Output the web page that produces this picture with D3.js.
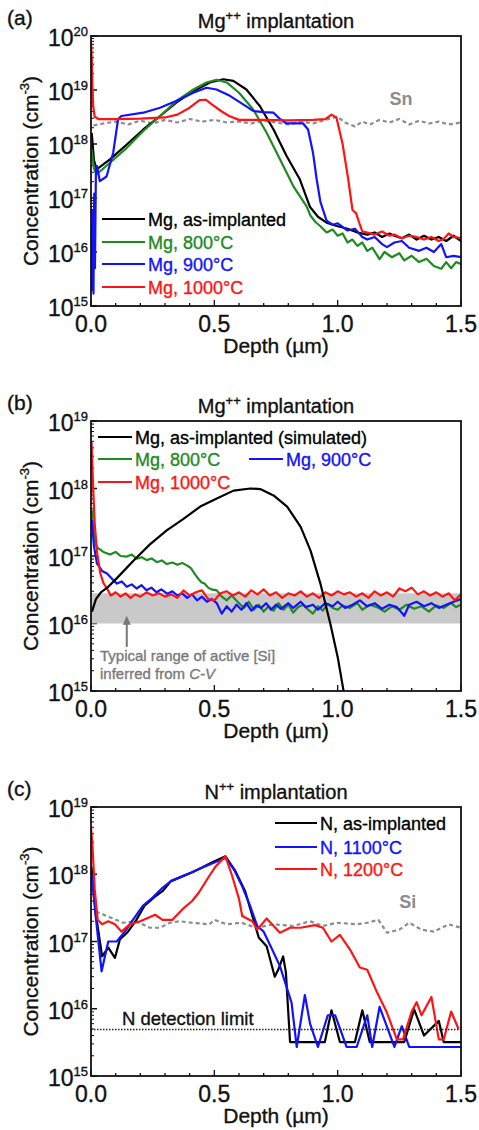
<!DOCTYPE html>
<html>
<head>
<meta charset="utf-8">
<script src="https://cdn.jsdelivr.net/npm/d3@7"></script>
<style>
  body { margin: 0; background: #fff; }
  text { font-family: "Liberation Sans", Arial, sans-serif; paint-order: stroke; stroke-width: 0.35px; }
</style>
</head>
<body>
<div class="chart"></div>
<script>
// ---- panel (a): Mg++ implantation, SIMS ----
var aBlack = [[0.003,1.6e18],[0.012,5e17],[0.023,3.4e17],[0.077,5.2e17],[0.145,9.8e17],[0.212,1.86e18],[0.28,3.3e18],[0.347,5.9e18],[0.415,9.5e18],[0.482,1.38e19],[0.536,1.58e19],[0.577,1.48e19],[0.63,1.02e19],[0.685,5e18],[0.74,1.86e18],[0.793,6e17],[0.847,2.2e17],[0.888,6.8e16],[0.92,4.5e16],[0.955,3.5e16],[0.98,3.2e16],[1.0,3.0e16],[1.04,2.7e16],[1.08,2.3e16],[1.12,2.1e16],[1.15,2.3e16],[1.18,1.9e16],[1.21,2.2e16],[1.23,2.0e16],[1.26,1.8e16],[1.29,2.1e16],[1.32,1.7e16],[1.35,2.0e16],[1.38,1.7e16],[1.41,1.9e16],[1.44,1.6e16],[1.47,2.0e16],[1.5,1.6e16]];
var aGreen = [[0.002,8e17],[0.012,3.5e17],[0.023,2.75e17],[0.077,4.5e17],[0.145,8.5e17],[0.212,1.74e18],[0.28,3.3e18],[0.347,6.3e18],[0.415,1.02e19],[0.468,1.38e19],[0.509,1.55e19],[0.55,1.38e19],[0.6,8.9e18],[0.657,4.4e18],[0.712,1.62e18],[0.766,5.2e17],[0.82,1.66e17],[0.874,7e16],[0.89,4.7e16],[0.91,3.6e16],[0.93,3.0e16],[0.955,2.3e16],[0.98,2.6e16],[1.0,2.0e16],[1.02,2.2e16],[1.04,1.5e16],[1.06,1.7e16],[1.08,1.3e16],[1.1,1.5e16],[1.12,1.05e16],[1.14,1.2e16],[1.17,7.4e15],[1.19,1.0e16],[1.22,8.0e15],[1.25,9.5e15],[1.27,7.0e15],[1.3,8.5e15],[1.33,6.5e15],[1.36,7.5e15],[1.39,5.5e15],[1.42,4.9e15],[1.44,6.5e15],[1.46,5.0e15],[1.48,6.5e15],[1.5,6.0e15]];
var aBlue = [[0.001,3e16],[0.004,2e15],[0.007,6e16],[0.01,1.7e15],[0.013,1.2e17],[0.016,5e15],[0.02,3.5e17],[0.024,3.9e17],[0.036,2.05e17],[0.063,2.5e17],[0.09,6.9e17],[0.11,2.9e18],[0.123,3.3e18],[0.212,3.8e18],[0.28,4.7e18],[0.347,6.3e18],[0.415,8.9e18],[0.468,1.1e19],[0.509,1.02e19],[0.563,7.8e18],[0.617,5.4e18],[0.657,4.1e18],[0.698,3.9e18],[0.74,3.8e18],[0.766,2.9e18],[0.793,2.4e18],[0.86,2.4e18],[0.88,1.86e18],[0.9,6.9e17],[0.915,2.2e17],[0.93,8.5e16],[0.955,3.8e16],[0.98,3.2e16],[1.0,3.4e16],[1.04,2.5e16],[1.07,2.7e16],[1.1,1.9e16],[1.12,1.7e16],[1.15,1.9e16],[1.18,1.4e16],[1.2,1.23e16],[1.23,1.5e16],[1.26,1.6e16],[1.29,1.2e16],[1.33,1.05e16],[1.36,1.2e16],[1.39,1.0e16],[1.42,1.4e16],[1.44,8e15],[1.47,8.5e15],[1.5,8e15]];
var aRed = [[0.0,8e19],[0.003,4e19],[0.006,1e19],[0.009,5e18],[0.015,3.2e18],[0.03,2.9e18],[0.1,2.9e18],[0.2,2.95e18],[0.3,3.1e18],[0.35,3.5e18],[0.4,4.7e18],[0.44,6.5e18],[0.465,6.6e18],[0.49,5.4e18],[0.53,4.0e18],[0.56,3.3e18],[0.6,2.8e18],[0.7,2.8e18],[0.8,2.75e18],[0.9,2.8e18],[0.95,2.9e18],[0.975,3.5e18],[0.995,3.1e18],[1.02,1.0e18],[1.043,2.2e17],[1.06,6e16],[1.075,5.2e16],[1.09,3.2e16],[1.1,2.4e16],[1.12,2.3e16],[1.15,2.1e16],[1.18,2.4e16],[1.21,2.0e16],[1.23,2.1e16],[1.26,1.8e16],[1.29,2.0e16],[1.32,1.9e16],[1.35,1.7e16],[1.38,1.9e16],[1.41,1.6e16],[1.43,1.75e16],[1.45,2.2e16],[1.47,1.9e16],[1.5,1.8e16]];
var aSn = [[0.01,2.2e18],[0.05,2.4e18],[0.1,2.6e18],[0.15,2.3e18],[0.2,2.7e18],[0.25,2.4e18],[0.3,2.8e18],[0.35,2.5e18],[0.4,2.9e18],[0.45,2.6e18],[0.5,2.8e18],[0.55,2.5e18],[0.6,2.6e18],[0.65,2.4e18],[0.7,2.7e18],[0.75,2.5e18],[0.8,2.3e18],[0.85,2.6e18],[0.9,2.4e18],[0.95,2.8e18],[1.0,3.2e18],[1.03,2.5e18],[1.07,2.1e18],[1.1,2.6e18],[1.13,2.3e18],[1.17,2.8e18],[1.21,2.5e18],[1.25,2.9e18],[1.29,2.3e18],[1.33,2.7e18],[1.37,2.4e18],[1.41,2.6e18],[1.45,2.3e18],[1.5,2.5e18]];

// ---- panel (b): Mg++ implantation, simulated + annealed ----
var bBlack = [[0.004,1.5e16],[0.02,2.3e16],[0.04,2.9e16],[0.07,3.5e16],[0.105,4.7e16],[0.172,8.5e16],[0.24,1.5e17],[0.307,2.4e17],[0.375,3.55e17],[0.443,5.4e17],[0.51,7.1e17],[0.578,9.3e17],[0.646,1.0e18],[0.686,9.8e17],[0.74,7.9e17],[0.795,5.4e17],[0.85,2.7e17],[0.89,1.2e17],[0.93,3.9e16],[0.97,1.0e16],[1.0,3.2e15],[1.024,1.0e15]];
var bGreen = [[0.003,4.8e17],[0.012,2e17],[0.023,1.35e17],[0.05,1.15e17],[0.077,1.05e17],[0.1,1.15e17],[0.12,1.0e17],[0.145,9.8e16],[0.165,1.05e17],[0.186,9.1e16],[0.206,9.6e16],[0.226,8.7e16],[0.246,9.2e16],[0.267,8.1e16],[0.287,8.6e16],[0.307,7.6e16],[0.33,8.0e16],[0.35,7.4e16],[0.37,7.9e16],[0.39,7.2e16],[0.405,6.6e16],[0.42,5.5e16],[0.435,4.6e16],[0.447,4.1e16],[0.46,3.9e16],[0.475,3.4e16],[0.488,3.2e16],[0.51,3.1e16],[0.53,2.5e16],[0.55,2.2e16],[0.57,2.6e16],[0.6,2.0e16],[0.62,1.7e16],[0.64,2.1e16],[0.66,1.6e16],[0.68,1.9e16],[0.7,1.5e16],[0.72,1.8e16],[0.74,1.55e16],[0.76,2.0e16],[0.78,1.6e16],[0.8,1.9e16],[0.82,1.45e16],[0.84,1.75e16],[0.86,1.9e16],[0.88,1.6e16],[0.9,1.4e16],[0.92,1.8e16],[0.94,1.55e16],[0.96,1.95e16],[0.98,1.7e16],[1.0,1.6e16],[1.02,1.85e16],[1.05,1.7e16],[1.08,2.0e16],[1.1,1.6e16],[1.13,1.9e16],[1.16,1.75e16],[1.19,1.5e16],[1.22,1.8e16],[1.25,1.6e16],[1.28,1.9e16],[1.31,1.65e16],[1.34,1.8e16],[1.37,1.5e16],[1.4,1.85e16],[1.43,1.7e16],[1.46,2.0e16],[1.48,1.75e16],[1.5,1.9e16]];
var bBlue = [[0.003,3.4e17],[0.012,1.4e17],[0.024,7.8e16],[0.045,6.0e16],[0.065,5.5e16],[0.085,4.6e16],[0.105,3.9e16],[0.125,4.2e16],[0.145,3.5e16],[0.165,3.8e16],[0.185,3.3e16],[0.205,3.7e16],[0.225,3.1e16],[0.245,3.4e16],[0.265,2.9e16],[0.285,3.2e16],[0.31,2.75e16],[0.33,3.0e16],[0.35,2.6e16],[0.37,2.8e16],[0.39,2.4e16],[0.41,2.7e16],[0.43,2.2e16],[0.45,2.5e16],[0.47,2.1e16],[0.49,2.3e16],[0.51,2.0e16],[0.53,1.4e16],[0.55,1.8e16],[0.57,1.5e16],[0.59,1.9e16],[0.61,1.6e16],[0.63,2.0e16],[0.65,1.55e16],[0.67,1.85e16],[0.69,1.7e16],[0.71,2.0e16],[0.73,1.6e16],[0.75,1.9e16],[0.77,1.65e16],[0.8,2.0e16],[0.82,1.7e16],[0.85,2.1e16],[0.87,1.75e16],[0.9,1.9e16],[0.92,1.6e16],[0.95,2.0e16],[0.98,1.8e16],[1.0,2.1e16],[1.03,1.7e16],[1.06,1.9e16],[1.09,2.2e16],[1.12,1.8e16],[1.15,2.0e16],[1.18,1.65e16],[1.21,1.9e16],[1.24,1.75e16],[1.27,1.3e16],[1.29,1.9e16],[1.32,2.1e16],[1.35,1.8e16],[1.38,2.0e16],[1.41,1.7e16],[1.44,1.9e16],[1.47,2.1e16],[1.5,2.3e16]];
var bRed = [[0.002,5e18],[0.008,1.2e18],[0.015,3e17],[0.025,1.1e17],[0.038,5.5e16],[0.05,4.0e16],[0.065,3.3e16],[0.08,2.6e16],[0.1,2.9e16],[0.12,2.5e16],[0.14,2.8e16],[0.16,2.4e16],[0.18,2.7e16],[0.2,2.5e16],[0.225,2.9e16],[0.25,2.6e16],[0.275,2.8e16],[0.3,2.5e16],[0.325,2.7e16],[0.35,2.4e16],[0.375,3.1e16],[0.4,2.6e16],[0.425,2.9e16],[0.45,3.1e16],[0.475,2.3e16],[0.5,2.2e16],[0.525,2.8e16],[0.55,3.0e16],[0.575,2.6e16],[0.6,2.9e16],[0.625,2.5e16],[0.65,3.1e16],[0.675,2.7e16],[0.7,3.2e16],[0.725,2.6e16],[0.75,2.9e16],[0.775,2.4e16],[0.8,2.8e16],[0.825,2.6e16],[0.85,3.0e16],[0.875,2.5e16],[0.9,2.8e16],[0.925,2.4e16],[0.95,2.9e16],[0.975,2.6e16],[1.0,3.0e16],[1.025,2.7e16],[1.05,2.9e16],[1.075,2.5e16],[1.1,2.8e16],[1.125,2.4e16],[1.15,3.0e16],[1.175,2.6e16],[1.2,2.9e16],[1.225,2.5e16],[1.25,3.3e16],[1.275,3.0e16],[1.3,3.4e16],[1.325,2.7e16],[1.35,3.0e16],[1.375,2.6e16],[1.4,2.9e16],[1.425,2.5e16],[1.45,2.8e16],[1.475,2.2e16],[1.5,2.7e16]];
var bBand = [1e16, 2.8e16];

// ---- panel (c): N++ implantation ----
var cBlack = [[0.002,1.3e18],[0.02,2.5e17],[0.045,6.0e16],[0.07,8.1e16],[0.097,5.7e16],[0.117,1.07e17],[0.15,1.4e17],[0.184,2.1e17],[0.217,3.4e17],[0.258,4.6e17],[0.29,5.6e17],[0.324,7.9e17],[0.37,9.3e17],[0.41,1.07e18],[0.45,1.26e18],[0.49,1.5e18],[0.545,1.85e18],[0.585,1.12e18],[0.625,5.6e17],[0.65,2.7e17],[0.68,1.15e17],[0.712,8.5e16],[0.745,3.0e16],[0.759,3.8e16],[0.779,6.0e16],[0.79,3.5e16],[0.807,3.2e15],[0.948,3.2e15],[0.975,9.5e15],[1.009,3.2e15],[1.07,3.2e15],[1.1,9.5e15],[1.13,3.2e15],[1.27,3.2e15],[1.31,9.8e15],[1.35,4.0e15],[1.41,6.6e15],[1.43,3.2e15],[1.5,3.2e15]];
var cBlue = [[0.002,1.0e18],[0.02,2.2e17],[0.043,3.6e16],[0.07,1.0e17],[0.104,1.0e17],[0.137,1.4e17],[0.17,2.1e17],[0.21,3.4e17],[0.25,4.5e17],[0.29,6.3e17],[0.324,7.9e17],[0.37,9.3e17],[0.41,1.07e18],[0.45,1.25e18],[0.5,1.5e18],[0.545,1.75e18],[0.58,1.17e18],[0.613,6.6e17],[0.645,3.4e17],[0.674,1.7e17],[0.7,1.4e17],[0.725,9e16],[0.766,4.3e16],[0.793,2.1e16],[0.813,1.23e16],[0.834,2.7e15],[0.867,1.6e16],[0.888,6e15],[0.92,2.7e15],[0.96,8e15],[0.99,8e15],[1.036,2.7e15],[1.077,2.7e15],[1.12,8e15],[1.14,2.7e15],[1.17,1.07e16],[1.23,2.7e15],[1.26,5.5e15],[1.29,2.7e15],[1.5,2.7e15]];
var cRed = [[0.0,5.0e18],[0.005,3e18],[0.015,6e17],[0.027,2.1e17],[0.045,1.8e17],[0.07,2.0e17],[0.097,1.8e17],[0.124,1.4e17],[0.157,1.8e17],[0.2,2.0e17],[0.26,2.5e17],[0.29,2.1e17],[0.33,2.1e17],[0.37,3.0e17],[0.41,4.0e17],[0.438,5.4e17],[0.48,9.5e17],[0.505,1.3e18],[0.545,1.85e18],[0.572,9.5e17],[0.6,4.3e17],[0.613,2.4e17],[0.654,2.0e17],[0.674,1.5e17],[0.712,2.2e17],[0.766,1.35e17],[0.807,1.6e17],[0.85,1.6e17],[0.908,1.75e17],[0.94,1.6e17],[0.975,1.0e17],[1.009,1.25e17],[1.05,7.6e16],[1.09,4.1e16],[1.12,3.8e16],[1.16,1.74e16],[1.2,8.7e15],[1.24,3.5e15],[1.265,3.5e15],[1.3,9.1e15],[1.32,1.25e16],[1.34,8e15],[1.38,1.5e16],[1.41,3.5e15],[1.43,3.5e15],[1.46,9.1e15],[1.49,5.0e15]];
var cSi = [[0.02,2.8e17],[0.076,2.3e17],[0.13,1.9e17],[0.184,2.0e17],[0.238,1.6e17],[0.28,1.6e17],[0.32,1.9e17],[0.36,2.0e17],[0.41,1.9e17],[0.48,1.8e17],[0.5,2.1e17],[0.55,1.8e17],[0.61,1.9e17],[0.67,1.6e17],[0.74,1.8e17],[0.82,1.7e17],[0.888,2.0e17],[0.94,1.7e17],[0.997,1.9e17],[1.04,1.85e17],[1.077,1.8e17],[1.12,1.9e17],[1.165,2.1e17],[1.2,1.35e17],[1.25,1.5e17],[1.29,1.9e17],[1.34,1.5e17],[1.39,1.4e17],[1.45,1.8e17],[1.5,1.6e17]];
var cLimit = 4.9e15;

var xTicks = [0, 0.5, 1.0, 1.5];
var colors = { black: "#000", green: "#1f8a1f", blue: "#1212ff", red: "#ff1414", gray: "#8c8c8c" };

var W = 479, H = 1130, left = 91, right = 461;

var svg = d3.select(".chart").append("svg")
  .attr("width", W).attr("height", H)
  .style("display", "block");

// one panel: box, log y axis, depth x axis, titles
function panel(id, top, bottom, ymin, ymax, tag, ion) {
  var g = svg.append("g").attr("fill", "#111").attr("stroke", "#111");
  var x = d3.scaleLinear().domain([0, 1.5]).range([left, right]);
  var y = d3.scaleLog().domain([ymin, ymax]).range([bottom, top]);

  g.append("clipPath").attr("id", "clip" + id)
    .append("rect").attr("x", left).attr("y", top).attr("width", right - left).attr("height", bottom - top);

  //left axis: decades + minor ticks, all pointing inwards
  var decades = d3.range(Math.log10(ymin), Math.log10(ymax) + 1);
  decades.forEach(function (e) {
    var v = Math.pow(10, e);
    g.append("line").attr("x1", left).attr("x2", left + 6).attr("y1", y(v)).attr("y2", y(v))
      .attr("stroke-width", 1.5);
    var t = g.append("text").attr("x", left - 3).attr("y", y(v) + 10)
      .attr("text-anchor", "end").attr("font-size", 23).text("10");
    t.append("tspan").attr("font-size", 13).attr("dy", -10).text(e);
    if (e < Math.log10(ymax)) {
      for (var k = 2; k < 10; k++) {
        g.append("line").attr("x1", left).attr("x2", left + 3).attr("y1", y(k * v)).attr("y2", y(k * v))
          .attr("stroke-width", 1);
      }
    }
  });

  //bottom axis ticks every 0.1
  d3.range(0, 16).forEach(function (i) {
    var len = (i % 5 === 0) ? 6 : 3;
    g.append("line").attr("x1", x(i / 10)).attr("x2", x(i / 10)).attr("y1", bottom).attr("y2", bottom - len)
      .attr("stroke-width", 1.3);
  });
  xTicks.forEach(function (v) {
    g.append("text").attr("x", x(v)).attr("y", bottom + 26).attr("text-anchor", "middle")
      .attr("font-size", 23).text(v.toFixed(1));
  });
  g.append("text").attr("x", (left + right) / 2).attr("y", bottom + 47).attr("text-anchor", "middle")
    .attr("font-size", 21).text("Depth (\u00b5m)");

  var yl = g.append("text")
    .attr("transform", "translate(38," + ((top + bottom) / 2) + ") rotate(-90)")
    .attr("text-anchor", "middle").attr("font-size", 21).text("Concentration (cm");
  yl.append("tspan").attr("font-size", 13).attr("dy", -9).text("-3");
  yl.append("tspan").attr("dy", 9).text(")");

  var tt = g.append("text").attr("x", 276).attr("y", top - 8).attr("text-anchor", "middle")
    .attr("font-size", 20).text(ion);
  tt.append("tspan").attr("font-size", 13).attr("dy", -8).text("++");
  tt.append("tspan").attr("dy", 8).text(" implantation");

  g.append("text").attr("x", 7).attr("y", top - 11).attr("font-size", 21).text(tag);

  var plot = g.append("g").attr("clip-path", "url(#clip" + id + ")");
  var line = d3.line().x(function (d) { return x(d[0]); }).y(function (d) { return y(d[1]); });

  return { g: g, plot: plot, x: x, y: y, line: line, top: top, bottom: bottom };
}

function series(p, data, color, dash) {
  p.plot.append("path").datum(data).attr("d", p.line)
    .attr("fill", "none").attr("stroke", color).attr("stroke-width", 2.2)
    .attr("stroke-linejoin", "round")
    .attr("stroke-dasharray", dash || null);
}

function frame(p) {
  p.g.append("rect").attr("x", left).attr("y", p.top).attr("width", right - left).attr("height", p.bottom - p.top)
    .attr("fill", "none").attr("stroke-width", 1.8);
}

function legendRow(p, x0, x1, yy, color, label) {
  p.g.append("line").attr("x1", x0).attr("x2", x1).attr("y1", yy).attr("y2", yy)
    .attr("stroke", color).attr("stroke-width", 2.2);
  p.g.append("text").attr("x", x1 + 3).attr("y", yy + 7).attr("font-size", 18)
    .attr("fill", color).attr("stroke", color).text(label);
}

// (a)
var pa = panel("a", 36, 306, 1e15, 1e20, "(a)", "Mg");
series(pa, aSn, colors.gray, "4,3");
series(pa, aBlack, colors.black);
series(pa, aGreen, colors.green);
series(pa, aBlue, colors.blue);
series(pa, aRed, colors.red);
frame(pa);
pa.g.append("text").attr("x", pa.x(1.21)).attr("y", pa.y(5.2e18)).attr("font-size", 18)
  .attr("font-weight", "bold").attr("fill", colors.gray).attr("stroke", "none").text("Sn");
legendRow(pa, 102, 145, 219, colors.black, "Mg, as-implanted");
legendRow(pa, 102, 145, 242, colors.green, "Mg, 800\u00b0C");
legendRow(pa, 102, 145, 264, colors.blue, "Mg, 900\u00b0C");
legendRow(pa, 102, 145, 287, colors.red, "Mg, 1000\u00b0C");

// (b)
var pb = panel("b", 421, 691, 1e15, 1e19, "(b)", "Mg");
pb.plot.append("rect").attr("x", left).attr("width", right - left)
  .attr("y", pb.y(bBand[1])).attr("height", pb.y(bBand[0]) - pb.y(bBand[1]))
  .attr("fill", "#c9c9c9").attr("stroke", "none");
series(pb, bGreen, colors.green);
series(pb, bBlue, colors.blue);
series(pb, bRed, colors.red);
series(pb, bBlack, colors.black);
frame(pb);
legendRow(pb, 98, 132, 437, colors.black, "Mg, as-implanted (simulated)");
legendRow(pb, 98, 132, 459, colors.green, "Mg, 800\u00b0C");
legendRow(pb, 249, 283, 459, colors.blue, "Mg, 900\u00b0C");
legendRow(pb, 98, 132, 482, colors.red, "Mg, 1000\u00b0C");
// arrow to band
var ax = pb.x(0.145);
pb.g.append("line").attr("x1", ax).attr("x2", ax).attr("y1", pb.y(4.5e15)).attr("y2", pb.y(1.05e16))
  .attr("stroke", "#777").attr("stroke-width", 2);
pb.g.append("path")
  .attr("d", "M" + ax + "," + pb.y(1.3e16) + " l-4,9 l8,0 z").attr("fill", "#777").attr("stroke", "none");
pb.g.append("text").attr("x", 100).attr("y", 661).attr("font-size", 15).attr("fill", "#7a7a7a")
  .attr("stroke", "#7a7a7a").text("Typical range of active [Si]");
var t2 = pb.g.append("text").attr("x", 100).attr("y", 679).attr("font-size", 15).attr("fill", "#7a7a7a")
  .attr("stroke", "#7a7a7a").text("inferred from ");
t2.append("tspan").attr("font-style", "italic").text("C-V");

// (c)
var pc = panel("c", 807, 1076, 1e15, 1e19, "(c)", "N");
pc.g.append("line").attr("x1", left).attr("x2", right).attr("y1", pc.y(cLimit)).attr("y2", pc.y(cLimit))
  .attr("stroke", "#222").attr("stroke-width", 1.5).attr("stroke-dasharray", "1.5,1.5");
series(pc, cSi, colors.gray, "4,3");
series(pc, cBlack, colors.black);
series(pc, cBlue, colors.blue);
series(pc, cRed, colors.red);
frame(pc);
pc.g.append("text").attr("x", 122).attr("y", 1025).attr("font-size", 18.5).text("N detection limit");
pc.g.append("text").attr("x", pc.x(1.25)).attr("y", pc.y(3.2e17)).attr("font-size", 18)
  .attr("font-weight", "bold").attr("fill", colors.gray).attr("stroke", "none").text("Si");
legendRow(pc, 275, 317, 823, colors.black, "N, as-implanted");
legendRow(pc, 275, 317, 847, colors.blue, "N, 1100\u00b0C");
legendRow(pc, 275, 317, 869, colors.red, "N, 1200\u00b0C");
</script>
</body>
</html>
